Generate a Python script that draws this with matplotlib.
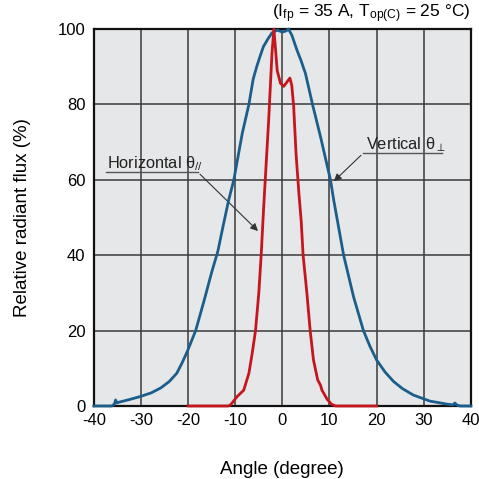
import matplotlib.pyplot as plt

plt.rcParams['font.family'] = ['Liberation Sans', 'DejaVu Sans']
plt.rcParams['mathtext.fontset'] = 'custom'
plt.rcParams['mathtext.rm'] = 'Liberation Sans'
plt.rcParams['mathtext.it'] = 'Liberation Sans:italic'

# Vertical (theta perpendicular) profile
vert_angle = [-40, -36.2, -35.6, -35.4, -35.1, -34.7, -32.5, -30.2, -27.8, -25.8, -24.0, -22.4,
              -21.3, -20.2, -18.4, -16.6, -15.0, -13.7, -12.6, -11.4, -10.3, -8.5, -7.1, -6.2,
              -5.4, -4.7, -4.0, -3.0, -2.2, -1.1, 0.0, 0.8, 1.3, 2.0, 3.1, 4.0, 4.9, 6.4, 8.1,
              10.2, 10.9, 13.0, 15.1, 17.2, 18.6, 20.0, 21.8, 23.6, 25.5, 27.8, 31.3, 34.9,
              36.2, 36.6, 37.0, 37.7, 40]
vert_flux = [0, 0, 0.6, 1.6, 0.8, 1.0, 1.7, 2.5, 3.5, 4.8, 6.5, 8.7,
             11.4, 14.4, 20, 28, 35.5, 41, 47.6, 54.6, 60, 72.4, 80, 86.7,
             90.2, 92.9, 95.4, 97.5, 99, 99.7, 99.2, 99.5, 100, 98.4, 94.4, 91.5, 88.2, 80, 71.4,
             60, 54.6, 40, 29, 20, 15.8, 12.2, 9.0, 6.5, 4.6, 2.9, 1.3, 0.5,
             0.3, 0.8, 0.3, 0, 0]

# Horizontal (theta parallel) profile
hor_angle = [-20, -11.5, -11.0, -9.6, -8.2, -7.1, -6.4, -5.7, -5.0, -4.5, -4.0, -2.9, -2.2,
             -1.8, -1.5, -1.1, -0.4, 0.3, 1.0, 1.6, 2.0, 2.4, 2.9, 3.5, 4.0, 4.4, 5.2,
             5.9, 6.6, 7.5, 8.1, 8.4, 9.5, 10.4, 11.3, 20]
hor_flux = [0, 0, 0.3, 2.5, 4.2, 8.7, 14, 20, 30, 40, 52, 76, 93.7,
            100, 95.4, 89, 85.6, 84.8, 86, 87, 85, 79.4, 67, 56.5, 49, 40, 30,
            20, 12.2, 6.9, 5.5, 4.2, 1.8, 0.5, 0, 0]

fig = plt.figure(figsize=(4.79, 4.79), dpi=100)
ax = fig.add_axes([0.196, 0.1524, 0.787, 0.787])
ax.set_facecolor('#e6e7e8')

ax.plot(vert_angle, vert_flux, color='#1b5e8c', linewidth=2.0, clip_on=False, zorder=4)
ax.plot(hor_angle, hor_flux, color='#c4161c', linewidth=2.0, clip_on=False, zorder=4)

ax.set_xlim(-40, 40)
ax.set_ylim(0, 100)
ax.set_xticks(range(-40, 41, 10))
ax.set_yticks(range(0, 101, 20))
ax.set_xticklabels([str(v) for v in range(-40, 41, 10)])
ax.grid(True, color='#3a3a3a', linewidth=1.1)
ax.set_axisbelow(True)
ax.tick_params(axis='x', length=0, labelsize=12, pad=5)
ax.tick_params(axis='y', length=0, labelsize=12, pad=6)
for s in ax.spines.values():
    s.set_color('#111111')
    s.set_linewidth(1.6)

ax.set_xlabel('Angle (degree)', fontsize=13.5, labelpad=24)
ax.set_ylabel('Relative radiant flux (%)', fontsize=13.5, labelpad=19)

ax.text(1.0, 1.01, r'(I$_{\rm fp}$ = 35 A, T$_{\rm op(C)}$ = 25 °C)',
        transform=ax.transAxes, ha='right', va='bottom', fontsize=12.5)

# Annotations with underline leaders
ax.text(-37.3, 63.1, r'Horizontal θ$_{//}$', fontsize=11.8, ha='left', va='baseline', color='#222222')
ax.plot([-37.5, -17.9], [62.0, 62.0], color='#555555', linewidth=1.0)
ax.annotate('', xy=(-4.75, 45.9), xytext=(-17.9, 62.0),
            arrowprops=dict(arrowstyle='-|>', color='#333333', lw=0.8, mutation_scale=11))

ax.text(17.8, 68.2, r'Vertical θ$_{\perp}$', fontsize=11.8, ha='left', va='baseline', color='#222222')
ax.plot([17.1, 33.9], [67.0, 67.0], color='#555555', linewidth=1.0)
ax.annotate('', xy=(10.5, 59.1), xytext=(17.1, 67.0),
            arrowprops=dict(arrowstyle='-|>', color='#333333', lw=0.8, mutation_scale=11))

fig.savefig('out.png', dpi=100)
